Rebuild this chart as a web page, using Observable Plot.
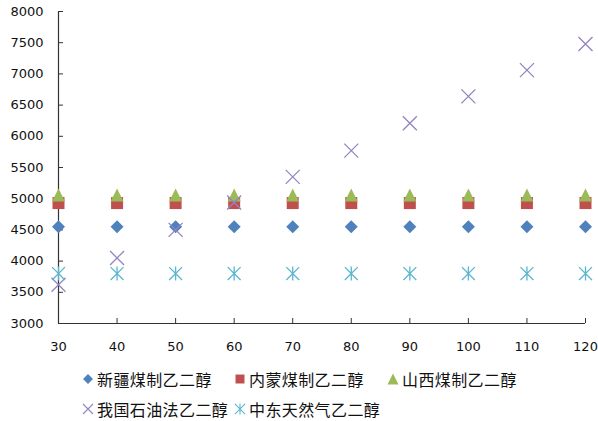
<!DOCTYPE html>
<html><head><meta charset="utf-8">
<script src="https://cdn.jsdelivr.net/npm/d3@7"></script>
<script src="https://cdn.jsdelivr.net/npm/@observablehq/plot@0.6"></script>
<style>
body{margin:0;background:#fff;}
#wrap{position:relative;width:598px;height:421px;overflow:hidden;background:#fff;}
.leg{position:absolute;display:flex;align-items:center;height:20px;font-family:"Noto Sans CJK SC","Noto Sans",sans-serif;font-size:16px;letter-spacing:0.4px;color:#111;white-space:nowrap;}
.leg svg{margin-right:4px;overflow:visible;}
</style></head><body><div id="wrap"></div>
<script>
// capacity (x) values
const capacities = [30, 40, 50, 60, 70, 80, 90, 100, 110, 120];
// series values
const xinjiangCoal = [4550, 4550, 4550, 4550, 4550, 4550, 4550, 4550, 4550, 4550];
const neimengguCoal = [4930, 4930, 4930, 4930, 4930, 4930, 4930, 4930, 4930, 4930];
const shanxiCoal = [5060, 5060, 5060, 5060, 5060, 5060, 5060, 5060, 5060, 5060];
const chinaPetroleum = [3620, 4050, 4500, 4940, 5350, 5770, 6210, 6640, 7060, 7480];
const middleEastGas = [3800, 3800, 3800, 3800, 3800, 3800, 3800, 3800, 3800, 3800];
// tick labels
const xTicks = [30, 40, 50, 60, 70, 80, 90, 100, 110, 120];
const yTicks = [3000, 3500, 4000, 4500, 5000, 5500, 6000, 6500, 7000, 7500, 8000];
// series names
const names = ["新疆煤制乙二醇", "内蒙煤制乙二醇", "山西煤制乙二醇", "我国石油法乙二醇", "中东天然气乙二醇"];

const rad = s => Math.sqrt(s / Math.PI);
const symDiamond = {draw(c, s){const r = rad(s); c.moveTo(0,-r); c.lineTo(r,0); c.lineTo(0,r); c.lineTo(-r,0); c.closePath();}};
const symSquare = {draw(c, s){const r = rad(s); c.moveTo(-r,-r); c.lineTo(r,-r); c.lineTo(r,r); c.lineTo(-r,r); c.closePath();}};
const symTriangle = {draw(c, s){const r = rad(s); c.moveTo(0,-r); c.lineTo(r,r); c.lineTo(-r,r); c.closePath();}};
const symTimes = {draw(c, s){const r = rad(s); c.moveTo(-r,-r); c.lineTo(r,r); c.moveTo(-r,r); c.lineTo(r,-r);}};
const symStar = {draw(c, s){const r = rad(s); const d = r*0.92; c.moveTo(0,-r); c.lineTo(0,r); c.moveTo(-d,-d); c.lineTo(d,d); c.moveTo(-d,d); c.lineTo(d,-d);}};

const series = [
  {name: names[0], values: xinjiangCoal, symbol: symDiamond, r: 6.5, fill: "#4F81BD", stroke: "none", sw: 0},
  {name: names[1], values: neimengguCoal, symbol: symSquare, r: 6, fill: "#C0504D", stroke: "none", sw: 0},
  {name: names[2], values: shanxiCoal, symbol: symTriangle, r: 6.5, fill: "#9BBB59", stroke: "none", sw: 0},
  {name: names[3], values: chinaPetroleum, symbol: symTimes, r: 7, fill: "none", stroke: "#9484C0", sw: 1.3},
  {name: names[4], values: middleEastGas, symbol: symStar, r: 7, fill: "none", stroke: "#5AB6CF", sw: 1.3}
];

const dotMarks = series.map(s => Plot.dot(capacities.map((x, i) => ({x, y: s.values[i]})), {
  x: "x", y: "y", symbol: s.symbol, r: s.r, fill: s.fill, stroke: s.stroke, strokeWidth: s.sw
}));

const chart = Plot.plot({
  width: 598, height: 360,
  marginLeft: 58, marginRight: 13, marginTop: 11, marginBottom: 37,
  style: {fontFamily: "DejaVu Sans", fontSize: "13px", color: "#111", background: "#fff"},
  x: {domain: [30, 120]},
  y: {domain: [3000, 8000]},
  marks: [
    Plot.axisY({ticks: yTicks, tickSize: -5, tickPadding: 20, tickFormat: "d", label: null, stroke: "#333"}),
    Plot.axisX({ticks: xTicks, tickSize: -5, tickPadding: 23, tickFormat: "d", label: null, stroke: "#333"}),
    Plot.ruleX([xTicks[0]], {stroke: "#333", strokeWidth: 1.2}),
    Plot.ruleY([yTicks[0]], {stroke: "#333", strokeWidth: 1.2}),
    ...dotMarks
  ]
});
const wrap = document.getElementById("wrap");
wrap.appendChild(chart);

// legend
const legPos = [[88, 379], [240, 379], [393, 379], [88, 409], [240, 409]];
const legR = [5, 4.5, 5.5, 5, 5.5];
series.forEach((s, i) => {
  const div = document.createElement("div");
  div.className = "leg";
  div.style.left = (legPos[i][0] - 5) + "px";
  div.style.top = (legPos[i][1] - 10) + "px";
  const svg = d3.create("svg").attr("width", 10).attr("height", 10);
  svg.append("path")
    .attr("transform", "translate(5,5)")
    .attr("d", d3.symbol(s.symbol, Math.PI * legR[i] * legR[i])())
    .attr("fill", s.fill).attr("stroke", s.stroke).attr("stroke-width", s.sw ? 1.1 : 0);
  div.appendChild(svg.node());
  const span = document.createElement("span");
  span.textContent = s.name;
  div.appendChild(span);
  wrap.appendChild(div);
});
</script>
</body></html>
